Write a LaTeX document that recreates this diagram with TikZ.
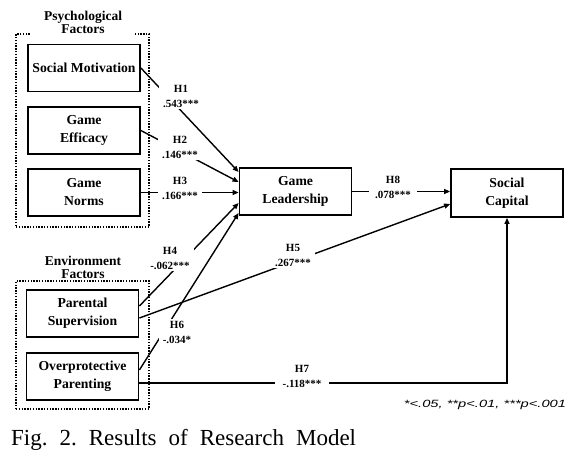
\documentclass[tikz,border=0pt]{standalone}
\usepackage{graphicx}
\usepackage{fontspec}
\setmainfont{Liberation Serif}
\newfontfamily\notefont{Liberation Sans}
\usetikzlibrary{arrows.meta,calc}
\begin{document}
\begin{tikzpicture}[x=1pt,y=-1pt,
  box/.style={draw,line width=1.8pt,minimum width=112pt,minimum height=47pt,align=center,
    font=\fontsize{13.7}{18}\selectfont\bfseries,inner sep=0pt},
  group/.style={draw,line width=1.5pt,dash pattern=on 1.4pt off 1.4pt,inner sep=0pt},
  grouplabel/.style={fill=white,align=center,font=\fontsize{13.5}{12.5}\selectfont\bfseries,
    inner xsep=13pt,inner ysep=1pt},
  conn/.style={line width=1.4pt,-{Triangle[length=6pt,width=5pt]}},
  coef/.style={fill=white,align=center,font=\fontsize{11}{15}\selectfont\bfseries,
    inner xsep=4pt,inner ysep=2pt}
]
\useasboundingbox (0,0) rectangle (584,456);

% group frames
\node[group,minimum width=133pt,minimum height=193pt] (psyg) at (82.5,130.5) {};
\node[group,minimum width=133pt,minimum height=128pt] (envg) at (82.5,345) {};
\node[grouplabel] (psyl) at (83,22.5) {Psychological\\Factors};
\node[grouplabel] (envl) at (83,267.5) {Environment\\Factors};

% boxes
\node[box] (SM) at (84,68) {Social Motivation};
\node[box] (GE) at (84,130.5) {Game\\Efficacy};
\node[box] (GN) at (84,192.5) {Game\\Norms};
\node[box] (PS) at (82.5,313.5) {Parental\\Supervision};
\node[box] (OP) at (82.5,376.5) {Overprotective\\Parenting};
\node[box] (GL) at (295.5,191.5) {Game\\Leadership};
\node[box,minimum height=48pt] (SC) at (507,193) {Social\\Capital};

% connectors
\draw[conn] (SM.east) -- ($(GL.west)+(0,-19.5)$);
\draw[conn] (GE.east) -- ($(GL.west)+(0,-9.5)$);
\draw[conn] (GN.east) -- (GN.east -| GL.west);
\draw[conn] ($(PS.east)+(0,-7.5)$) -- ($(GL.west)+(0,11.5)$);
\draw[conn] ($(PS.east)+(0,4.5)$) -- ($(SC.west)+(0,11)$);
\draw[conn] ($(OP.east)+(0,-6.5)$) -- ($(GL.west)+(0,21.5)$);
\draw[conn] ($(OP.east)+(0,6.5)$) -| (SC.south);
\draw[conn] (GL.east) -- (GL.east -| SC.west);

% coefficients
\node[coef] (h1) at (181,96) {H1\\.543***};
\node[coef] (h2) at (180,147) {H2\\.146***};
\node[coef] (h3) at (180,188) {H3\\.166***};
\node[coef] (h4) at (170,258) {H4\\-.062***};
\node[coef] (h5) at (293,255) {H5\\.267***};
\node[coef] (h6) at (177,332) {H6\\-.034*};
\node[coef,inner xsep=8pt] (h7) at (302,376) {H7\\-.118***};
\node[coef,inner xsep=6pt] (h8) at (393,187) {H8\\.078***};

% note and caption
\node[font=\notefont\itshape\fontsize{10.5}{12}\selectfont,inner sep=0pt] (note) at (485,405)
  {\scalebox{1.4}[1]{*<.05, **p<.01, ***p<.001}};
\node[anchor=base west,font=\fontsize{23}{27}\selectfont,inner sep=0pt] (cap) at (11,445)
  {Fig.\hspace{12pt}2.\hspace{12pt}Results\hspace{12pt}of\hspace{12pt}Research\hspace{12pt}Model};
\end{tikzpicture}
\end{document}
